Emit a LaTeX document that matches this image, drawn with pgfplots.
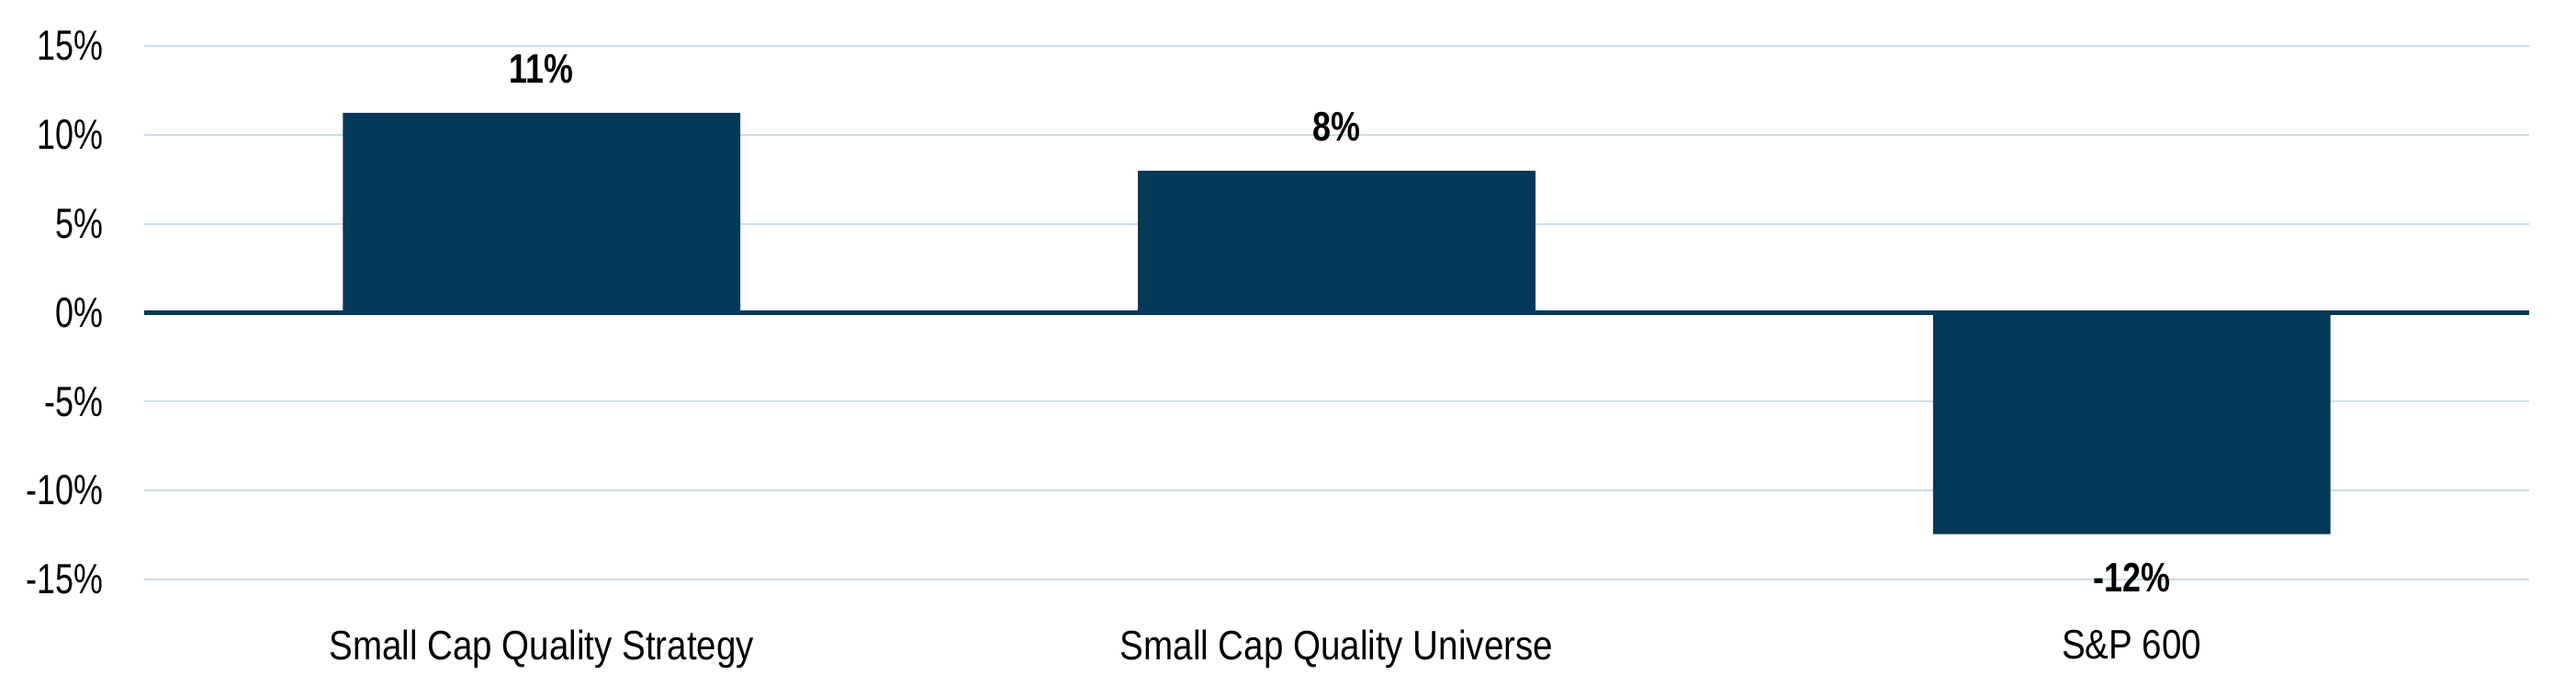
\documentclass[border=0pt]{standalone}
\usepackage{fontspec}
\setmainfont{Liberation Sans}[FakeStretch=0.86]
\newfontfamily\tickfont{Liberation Sans}[FakeStretch=0.78]
\newfontfamily\valfont{Liberation Sans}[FakeStretch=0.8]
\usepackage{pgfplots}
\pgfplotsset{compat=1.18}

\definecolor{navy}{RGB}{3,57,87}
\definecolor{gridc}{RGB}{200,222,232}

\begin{document}
\begin{tikzpicture}
\begin{axis}[
  name=ax,
  scale only axis,
  width=649.25pt, height=145.25pt,
  xmin=-0.5, xmax=2.5,
  ymin=-15, ymax=15,
  axis line style={draw=none},
  major tick length=0pt,
  xtick={0,1,2},
  xticklabels={Small Cap Quality Strategy, Small Cap Quality Universe, S\&P 600},
  xticklabel style={font=\fontsize{11.2}{13}\selectfont, inner sep=0pt, yshift=-13.5pt},
  ytick={-15,-10,-5,0,5,10,15},
  yticklabels={-15\%,-10\%,-5\%,0\%,5\%,10\%,15\%},
  yticklabel style={font=\tickfont\fontsize{11.5}{13}\selectfont, inner sep=0pt, xshift=-11pt},
  ymajorgrids,
  grid style={color=gridc, line width=0.5pt},
  extra y ticks={0},
  extra y tick labels={},
  extra y tick style={grid style={color=navy, line width=1.3pt}},
  /pgf/number format/assume math mode=true,
  ybar,
  bar width=0.5,
  nodes near coords={\pgfmathprintnumber[fixed,precision=0]{\pgfplotspointmeta}\%},
  nodes near coords align={vertical},
  every node near coord/.append style={font=\valfont\bfseries\fontsize{11.2}{13}\selectfont, inner xsep=0pt, inner ysep=7.75pt, text=black},
]
\addplot[fill=navy, draw=none] coordinates {
  (0,11.24) (1,7.99) (2,-12.45)
};
\end{axis}
\path ([xshift=-39.25pt,yshift=-32pt]ax.south west) rectangle ([xshift=12.75pt,yshift=12.5pt]ax.north east);
\end{tikzpicture}
\end{document}
